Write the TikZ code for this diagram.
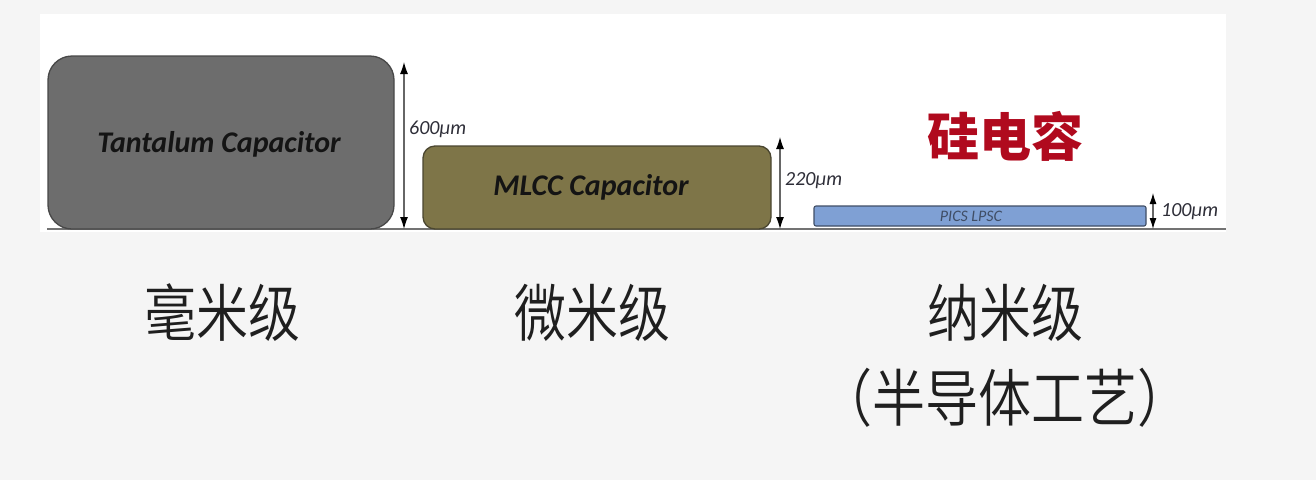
\documentclass[tikz,border=0pt]{standalone}
\usepackage{fontspec}
\setmainfont{Carlito}
\newfontfamily\cjk{Noto Sans CJK SC}[UprightFont={* DemiLight}]
\newfontfamily\cjkb{Noto Sans CJK SC}
\usetikzlibrary{arrows.meta}
\definecolor{bgcol}{HTML}{F5F5F5}
\definecolor{tantfill}{HTML}{6D6D6D}
\definecolor{tantdraw}{HTML}{484848}
\definecolor{mlccfill}{HTML}{7E7548}
\definecolor{mlccdraw}{HTML}{4A4630}
\definecolor{picsfill}{HTML}{7FA0D4}
\definecolor{picsdraw}{HTML}{404E66}
\definecolor{sired}{HTML}{B00A1E}
\definecolor{txtgray}{HTML}{2E2E38}
\tikzset{
  capbox/.style={rounded corners=#1, line width=1.3pt, inner sep=0pt},
  dimarrow/.style={draw=black!60, line width=1.1pt, {Latex[length=12pt,width=8pt,color=black,fill=black]}-{Latex[length=12pt,width=8pt,color=black,fill=black]}},
  smallarrow/.style={draw=black!60, line width=1.1pt, {Latex[length=11pt,width=7pt,color=black,fill=black]}-{Latex[length=11pt,width=7pt,color=black,fill=black]}},
  dimlabel/.style={anchor=west, inner sep=0pt, font=\itshape\fontsize{20}{22}\selectfont, text=txtgray},
  caplabel/.style={font=\bfseries\itshape\fontsize{30}{34}\selectfont, text=black!92},
  cnlabel/.style={font=\cjk\fontsize{52}{60}\selectfont, text=black!88, inner sep=0pt}
}
\begin{document}
\begin{tikzpicture}[x=1pt,y=-1pt]
\useasboundingbox (0,0) rectangle (1316,480);
\fill[bgcol] (0,0) rectangle (1316,480);
\fill[white] (40,14) rectangle (1226,232);
% baseline
\coordinate (bl0) at (47,229);
\coordinate (bl1) at (1226,229);
\draw[black!55, line width=2pt] (bl0) -- (bl1);
% boxes
\node[capbox=24pt, draw=tantdraw, fill=tantfill, minimum width=346pt, minimum height=173pt] (tant) at (221,142.5) {};
\node[caplabel] (tanttxt) at (219,144) {Tantalum Capacitor};
\node[capbox=12pt, draw=mlccdraw, fill=mlccfill, minimum width=348pt, minimum height=83pt] (mlcc) at (597,187.5) {};
\node[caplabel] (mlcctxt) at (591,187) {MLCC Capacitor};
\node[capbox=2pt, draw=picsdraw, fill=picsfill, minimum width=332pt, minimum height=20pt, line width=1.1pt] (pics) at (980,216) {};
\node[font=\itshape\fontsize{16}{17}\selectfont, text=picsdraw, inner sep=0pt] (picstxt) at (971,216) {PICS LPSC};
% dimension arrows
\coordinate (a1t) at (404,62);
\coordinate (a1b) at (404,229);
\draw[dimarrow] (a1t) -- (a1b);
\node[dimlabel] (l600) at (409,129) {600µm};
\coordinate (a2t) at (780,137);
\coordinate (a2b) at (780,229);
\draw[dimarrow] (a2t) -- (a2b);
\node[dimlabel] (l220) at (785,181) {220µm};
\coordinate (a3t) at (1153,193);
\coordinate (a3b) at (1153,229);
\draw[smallarrow] (a3t) -- (a3b);
\node[dimlabel] (l100) at (1161,212) {100µm};
% titles
\node[font=\cjkb\bfseries\fontsize{52}{60}\selectfont, text=sired, inner sep=0pt] (si) at (1005,136) {硅电容};
\node[cnlabel] (mm) at (222,313) {\scalebox{1}[1.2]{毫米级}};
\node[cnlabel] (um) at (592,313) {\scalebox{1}[1.2]{微米级}};
\node[cnlabel] (nm) at (1005,313) {\scalebox{1}[1.2]{纳米级}};
\node[cnlabel] (semi) at (1005,398) {\scalebox{1.02}[1.2]{（半导体工艺）}};
\end{tikzpicture}
\end{document}
